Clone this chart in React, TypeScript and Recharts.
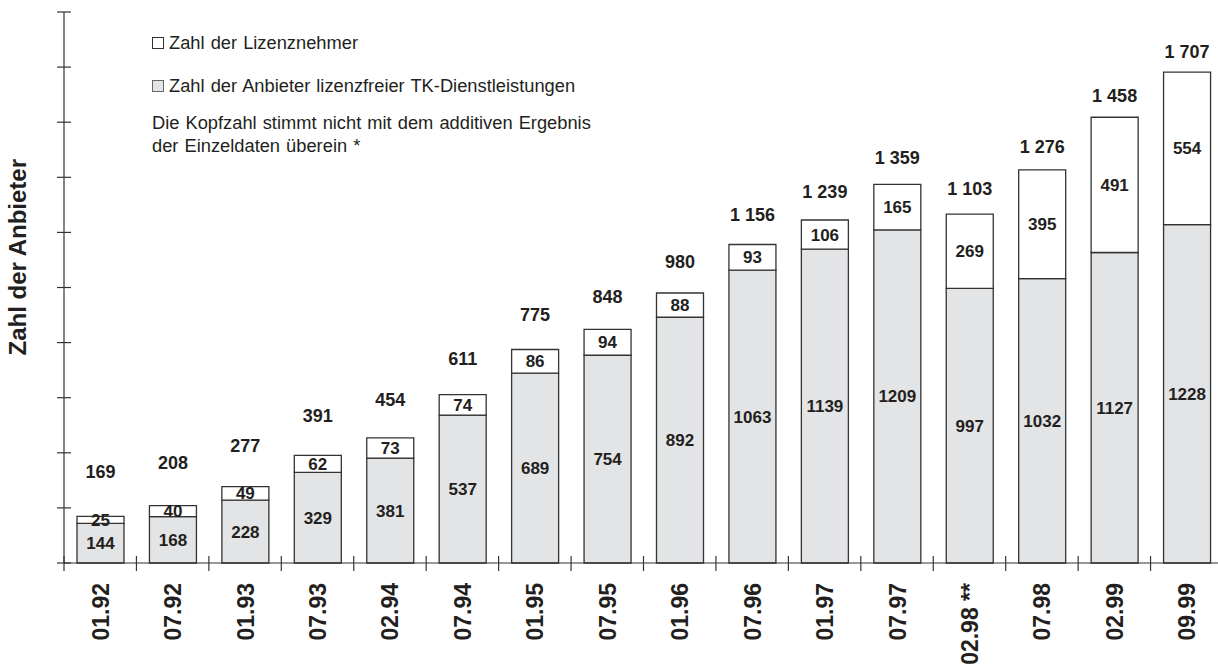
import React from 'react';
import { BarChart, Bar, XAxis, YAxis, LabelList, Legend } from 'recharts';

const categories = ['01.92', '07.92', '01.93', '07.93', '02.94', '07.94', '01.95', '07.95', '01.96', '07.96', '01.97', '07.97', '02.98 **', '07.98', '02.99', '09.99'];
const anbieterLizenzfrei = [144, 168, 228, 329, 381, 537, 689, 754, 892, 1063, 1139, 1209, 997, 1032, 1127, 1228];
const lizenznehmer = [25, 40, 49, 62, 73, 74, 86, 94, 88, 93, 106, 165, 269, 395, 491, 554];
const kopfzahl = [169, 208, 277, 391, 454, 611, 775, 848, 980, 1156, 1239, 1359, 1103, 1276, 1458, 1707];
const yTicks = [0, 200, 400, 600, 800, 1000, 1200, 1400, 1600, 1800, 2000];

const FONT = '"Liberation Sans", Arial, Helvetica, sans-serif';
const INK = '#231f20';
const GRAY = '#e3e4e6';
const EDGE = '#333333';

const data = categories.map((c, i) => ({
  name: c,
  anbieter: anbieterLizenzfrei[i],
  lizenz: lizenznehmer[i],
  kopf: kopfzahl[i],
}));

// "1 707" style with a space as thousands separator
const fmtKopf = (v: number) => String(v).replace(/\B(?=(\d{3})+(?!\d))/g, ' ');

const YTick = (props: any) => {
  const { x, y } = props;
  return <line x1={x - 7} x2={x + 7} y1={y} y2={y} stroke={EDGE} strokeWidth={1.2} />;
};

const XTick = (props: any) => {
  const { x, y, payload, width, visibleTicksCount } = props;
  const bw = width && visibleTicksCount ? width / visibleTicksCount : 72.4;
  const left = x - bw / 2;
  return (
    <g>
      <line x1={left} x2={left} y1={y - 7} y2={y + 8} stroke={EDGE} strokeWidth={1.2} />
      <text
        x={x + 8.5}
        y={y + 20}
        transform={`rotate(-90, ${x + 8.5}, ${y + 20})`}
        textAnchor="end"
        fontFamily={FONT}
        fontWeight="bold"
        fontSize={23}
        fill={INK}
      >
        {payload.value}
      </text>
    </g>
  );
};

const KopfLabel = (props: any) => {
  const { x, y, width, index } = props;
  const off = 44 - 1.6 * index;
  return (
    <text
      x={x + width / 2}
      y={y - off}
      textAnchor="middle"
      dominantBaseline="central"
      fontFamily={FONT}
      fontWeight="bold"
      fontSize={18}
      fill={INK}
    >
      {fmtKopf(kopfzahl[index])}
    </text>
  );
};

const YTitle = (props: any) => {
  const { viewBox } = props;
  const cx = viewBox.x + 26;
  const cy = viewBox.y + viewBox.height * 0.445;
  return (
    <text
      x={cx}
      y={cy}
      transform={`rotate(-90, ${cx}, ${cy})`}
      textAnchor="middle"
      fontFamily={FONT}
      fontWeight="bold"
      fontSize={24}
      fill={INK}
    >
      Zahl der Anbieter
    </text>
  );
};

const legendItems = [
  { label: 'Zahl der Lizenznehmer', fill: '#ffffff', border: '#333' },
  { label: 'Zahl der Anbieter lizenzfreier TK-Dienstleistungen', fill: GRAY, border: '#666' },
];

const LegendBox = () => (
  <div style={{ fontFamily: FONT, fontSize: 18.3, color: INK, textAlign: 'left', wordSpacing: 1 }}>
    {legendItems.map((it, i) => (
      <div key={it.label} style={{ display: 'flex', alignItems: 'center', height: 22, marginTop: i === 0 ? 0 : 21.4, whiteSpace: 'nowrap' }}>
        <span
          style={{
            display: 'inline-block',
            width: 10,
            height: 10,
            background: it.fill,
            border: `1px solid ${it.border}`,
            marginRight: 5,
          }}
        />
        {it.label}
      </div>
    ))}
    <div style={{ marginTop: 13.8, lineHeight: '23px', whiteSpace: 'nowrap' }}>
      Die Kopfzahl stimmt nicht mit dem additiven Ergebnis
      <br />
      der Einzeldaten überein *
    </div>
  </div>
);

export default function App() {
  return (
    <div style={{ position: 'absolute', left: 0, top: 0, width: 1218, height: 669, overflow: 'hidden', background: '#fff' }}>
      <BarChart
        width={1223}
        height={669}
        data={data}
        margin={{ top: 12, right: 0, bottom: 0, left: 0 }}
        barSize={47}
      >
        <XAxis
          dataKey="name"
          interval={0}
          height={106}
          tickSize={0}
          tickMargin={0}
          tickLine={false}
          axisLine={{ stroke: EDGE, strokeWidth: 1.2 }}
          tick={<XTick />}
        />
        <YAxis
          width={64}
          domain={[0, 2000]}
          ticks={yTicks}
          tickSize={0}
          tickMargin={0}
          tickLine={false}
          axisLine={{ stroke: EDGE, strokeWidth: 1.2 }}
          tick={<YTick />}
          label={<YTitle />}
        />
        <Legend
          layout="horizontal"
          verticalAlign="middle"
          content={<LegendBox />}
          wrapperStyle={{ left: 152, top: 32, width: 480, height: 140 }}
        />
        <Bar dataKey="anbieter" stackId="a" fill={GRAY} stroke={EDGE} strokeWidth={1.3} isAnimationActive={false}>
          <LabelList
            dataKey="anbieter"
            position="center"
            fill={INK}
            fontFamily={FONT}
            fontWeight="bold"
            fontSize={17}
          />
        </Bar>
        <Bar dataKey="lizenz" stackId="a" fill="#ffffff" stroke={EDGE} strokeWidth={1.3} isAnimationActive={false}>
          <LabelList
            dataKey="lizenz"
            position="center"
            fill={INK}
            fontFamily={FONT}
            fontWeight="bold"
            fontSize={17}
          />
          <LabelList dataKey="kopf" content={<KopfLabel />} />
        </Bar>
      </BarChart>
    </div>
  );
}
